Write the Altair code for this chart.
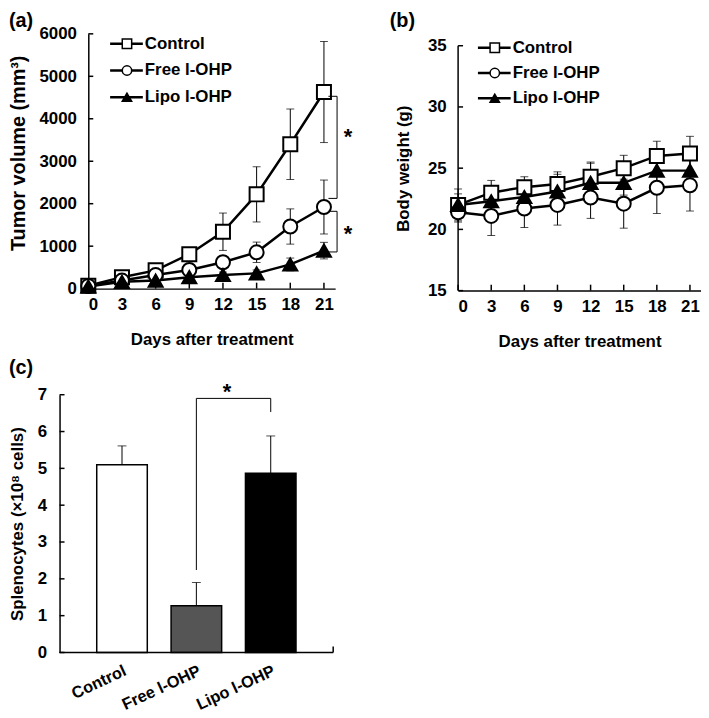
import altair as alt
import pandas as pd

# ---------------- data ----------------
days = [0, 3, 6, 9, 12, 15, 18, 21]
groups = ["Control", "Free l-OHP", "Lipo l-OHP"]

tumor_control = [70, 270, 430, 810, 1340, 2220, 3400, 4630]
tumor_control_err = [30, 60, 100, 120, 440, 650, 830, 1190]
tumor_free = [60, 190, 320, 440, 622, 856, 1463, 1922]
tumor_free_err = [20, 40, 60, 80, 100, 240, 415, 635]
tumor_lipo = [50, 160, 190, 270, 320, 360, 570, 895]
tumor_lipo_err = [15, 30, 40, 60, 70, 80, 150, 195]

bw_control = [22.0, 23.0, 23.45, 23.7, 24.3, 25.0, 26.0, 26.2]
bw_control_err = [1.3, 1.0, 0.85, 1.0, 1.2, 1.05, 1.2, 1.4]
bw_free = [21.4, 21.1, 21.7, 22.0, 22.6, 22.1, 23.4, 23.6]
bw_free_err = [0.8, 1.6, 1.55, 1.65, 1.7, 2.0, 2.1, 2.1]
bw_lipo = [22.0, 22.3, 22.65, 23.1, 23.8, 23.8, 24.8, 24.8]
bw_lipo_err = [0.9, 0.8, 0.8, 1.4, 1.6, 1.0, 1.0, 0.9]

spleno = [5.1, 1.27, 4.87]
spleno_err = [0.51, 0.63, 1.01]

tumor_ticks = [0, 1000, 2000, 3000, 4000, 5000, 6000]
bw_ticks = [15, 20, 25, 30, 35]
spleno_ticks = [0, 1, 2, 3, 4, 5, 6, 7]

# significance annotations (data units)
brk_a_x = 22.17
brk_a_inner = 21.4
brk_a_top = [4529, 1821]
brk_a_bottom = [2125, 864]
star_a_x = 23.15
star_a_y = [3689, 1400]

brk_c_x = ["Free l-OHP", "Free l-OHP", "Lipo l-OHP", "Lipo l-OHP"]
brk_c_y = [2.24, 6.9, 6.9, 6.53]
star_c_y = 7.05

# ---------------- style ----------------
FONT = "Liberation Sans"
SHAPES = ["square", "circle", "triangle-up"]
FILLS = ["white", "white", "black"]
BAR_FILLS = ["white", "#555555", "black"]

shape_scale = alt.Scale(domain=groups, range=SHAPES)
fill_scale = alt.Scale(domain=groups, range=FILLS)
one = pd.DataFrame({"k": [0]})


def long_df(means, errs):
    frames = []
    for g, m, e in zip(groups, means, errs):
        d = pd.DataFrame({"day": days, "mean": m, "err": e})
        d["group"] = g
        frames.append(d)
    df = pd.concat(frames, ignore_index=True)
    df["lo"] = df["mean"] - df["err"]
    df["hi"] = df["mean"] + df["err"]
    return df


def line_panel(df, W, H, ydom, yticks, ytitle, ytitle_x, ytitle_y, ytitle_fs,
               letter, letter_xy, leg_y0, leg_dy, leg_x0, xdom, ydomain_line):
    xaxis = alt.Axis(values=days, title="Days after treatment", ticks=False,
                     tickSize=0, labelPadding=8, titleX=W / 2, titleY=51,
                     titleBaseline="middle", labelAngle=0, grid=False)
    yaxis = alt.Axis(values=yticks, title=ytitle, ticks=False, tickSize=0,
                     labelPadding=12, titleX=ytitle_x, titleY=ytitle_y,
                     titleFontSize=ytitle_fs, titleBaseline="middle",
                     grid=False, format="d", domain=ydomain_line is None)
    xs = alt.Scale(domain=xdom, nice=False, zero=False)
    ys = alt.Scale(domain=ydom, nice=False, zero=False)

    def X(f):
        return alt.X(f"{f}:Q", scale=xs, axis=xaxis)

    def Y(f):
        return alt.Y(f"{f}:Q", scale=ys, axis=yaxis)

    base = alt.Chart(df)
    err = base.mark_rule(color="black", strokeWidth=1).encode(
        x=X("day"), y=Y("lo"), y2="hi:Q")
    cap_hi = base.mark_tick(orient="horizontal", size=8, thickness=1,
                            color="black").encode(x=X("day"), y=Y("hi"))
    cap_lo = base.mark_tick(orient="horizontal", size=8, thickness=1,
                            color="black").encode(x=X("day"), y=Y("lo"))
    line = base.mark_line(color="black", strokeWidth=2.5).encode(
        x=X("day"), y=Y("mean"), detail="group:N")
    pts = base.mark_point(filled=True, size=200, stroke="black",
                          strokeWidth=2, opacity=1).encode(
        x=X("day"), y=Y("mean"),
        shape=alt.Shape("group:N", scale=shape_scale, legend=None),
        fill=alt.Fill("group:N", scale=fill_scale, legend=None))

    xt = alt.Chart(pd.DataFrame({"day": days})).mark_rule(
        color="black", strokeWidth=1.5).encode(
        x=X("day"), y=alt.value(H), y2=alt.value(H - 6))
    yt = alt.Chart(pd.DataFrame({"mean": yticks})).mark_rule(
        color="black", strokeWidth=1.5).encode(
        y=Y("mean"), x=alt.value(0), x2=alt.value(5))

    lab = alt.Chart(one).mark_text(
        text=letter, align="left", baseline="middle", font=FONT,
        fontSize=20, fontWeight="bold", color="black").encode(
        x=alt.value(letter_xy[0]), y=alt.value(letter_xy[1]))

    extra = []
    if ydomain_line is not None:
        extra.append(alt.Chart(pd.DataFrame({"lo": [ydomain_line[0]], "hi": [ydomain_line[1]]}))
                     .mark_rule(color="black", strokeWidth=1.5)
                     .encode(x=alt.value(0), y=Y("lo"), y2="hi:Q"))

    legs = []
    for i, g in enumerate(groups):
        yy = leg_y0 + i * leg_dy
        legs.append(alt.Chart(one).mark_rule(color="black", strokeWidth=2.5).encode(
            x=alt.value(leg_x0), x2=alt.value(leg_x0 + 33), y=alt.value(yy)))
        legs.append(alt.Chart(one).mark_point(
            filled=True, size=90, stroke="black", strokeWidth=1.5, opacity=1,
            shape=SHAPES[i], fill=FILLS[i]).encode(
            x=alt.value(leg_x0 + 17), y=alt.value(yy)))
        legs.append(alt.Chart(one).mark_text(
            text=g, align="left", baseline="middle", font=FONT, fontSize=17,
            fontWeight="bold", color="black").encode(
            x=alt.value(leg_x0 + 35), y=alt.value(yy)))

    layers = extra + [err, cap_hi, cap_lo, line, pts, xt, yt, lab] + legs
    return layers, X, Y


# ---------------- panel (a) ----------------
dfa = long_df([tumor_control, tumor_free, tumor_lipo],
              [tumor_control_err, tumor_free_err, tumor_lipo_err])
WA, HA = 249, 257
la, XA, YA = line_panel(dfa, WA, HA, [0, 6000], tumor_ticks, "Tumor volume (mm³)",
                        -70, 120, 20, "(a)", (-80, -13), 10, 27, 22, [0, 22], None)

brk_df = pd.DataFrame({"x": [brk_a_x] * 2, "xi": [brk_a_inner] * 2,
                       "top": brk_a_top, "bot": brk_a_bottom})
brk_v = alt.Chart(brk_df).mark_rule(color="black", strokeWidth=1).encode(
    x=XA("x"), y=YA("top"), y2="bot:Q")
brk_t = alt.Chart(brk_df).mark_rule(color="black", strokeWidth=1).encode(
    x=XA("xi"), x2="x:Q", y=YA("top"))
brk_b = alt.Chart(brk_df).mark_rule(color="black", strokeWidth=1).encode(
    x=XA("xi"), x2="x:Q", y=YA("bot"))
star_df = pd.DataFrame({"x": [star_a_x] * 2, "y": star_a_y})
stars_a = alt.Chart(star_df).mark_text(
    text="*", font=FONT, fontSize=22, fontWeight="bold", baseline="middle",
    dy=5, color="black").encode(x=XA("x"), y=YA("y"))

panel_a = alt.layer(*la, brk_v, brk_t, brk_b, stars_a).properties(width=WA, height=HA)

# ---------------- panel (b) ----------------
# plot area starts 12 px above the 35 g tick (shared top with panel a)
dfb = long_df([bw_control, bw_free, bw_lipo],
              [bw_control_err, bw_free_err, bw_lipo_err])
WB, HB = 245, 259
lb, XB, YB = line_panel(dfb, WB, HB, [15, 35.97], bw_ticks, "Body weight (g)",
                        -55, 12 + 247 / 2, 17, "(b)", (-69, -13), 14, 25.5, 20,
                        [0, 22], (15, 35))
panel_b = alt.layer(*lb).properties(width=WB, height=HB)

# ---------------- panel (c) ----------------
# plot origin is shared with panel a; the y axis is pushed 29 px to the left
OFF = 29
WC, HC = 247, 260
dfc = pd.DataFrame({"group": groups, "value": spleno, "err": spleno_err})
dfc["hi"] = dfc["value"] + dfc["err"]
xc_axis = alt.Axis(title=None, labelAngle=-25, labelAlign="right",
                   labelBaseline="top", labelOffset=0, labelFontSize=16.5,
                   ticks=False, tickSize=0, labelPadding=10, grid=False,
                   domain=False)
yc_axis = alt.Axis(values=spleno_ticks, title="Splenocytes (×10⁸ cells)",
                   ticks=False, tickSize=0, labelPadding=13, titleX=-42,
                   titleY=HC / 2, titleBaseline="middle", grid=False,
                   offset=OFF)
xcs = alt.Scale(domain=groups, range=[-OFF, WC], paddingInner=0.32,
                paddingOuter=0.5)
ycs = alt.Scale(domain=[0, 7], nice=False)


def XC(f):
    return alt.X(f"{f}:N", scale=xcs, axis=xc_axis, sort=groups)


def YC(f):
    return alt.Y(f"{f}:Q", scale=ycs, axis=yc_axis)


cbase = alt.Chart(dfc)
c_err = cbase.mark_rule(color="black", strokeWidth=1).encode(
    x=XC("group"), y=YC("value"), y2="hi:Q")
c_cap = cbase.mark_tick(orient="horizontal", size=9, thickness=1,
                        color="black").encode(x=XC("group"), y=YC("hi"))
c_bars = cbase.mark_bar(stroke="black", strokeWidth=1.5).encode(
    x=XC("group"), y=YC("value"),
    fill=alt.Fill("group:N", scale=alt.Scale(domain=groups, range=BAR_FILLS),
                  legend=None))
c_yt = alt.Chart(pd.DataFrame({"value": spleno_ticks})).mark_rule(
    color="black", strokeWidth=1.5).encode(
    y=YC("value"), x=alt.value(-OFF), x2=alt.value(-OFF + 5))
c_xline = alt.Chart(one).mark_rule(color="black", strokeWidth=1.5).encode(
    x=alt.value(-OFF), x2=alt.value(WC), y=alt.value(HC))
c_xt = alt.Chart(one).mark_rule(color="black", strokeWidth=1.5).encode(
    x=alt.value(WC), y=alt.value(HC), y2=alt.value(HC - 6))
brk_c_df = pd.DataFrame({"group": brk_c_x, "value": brk_c_y,
                         "o": list(range(len(brk_c_x)))})
c_brk = alt.Chart(brk_c_df).mark_line(color="black", strokeWidth=1).encode(
    x=XC("group"), y=YC("value"), order="o:Q")
c_star = alt.Chart(pd.DataFrame({"group": ["Free l-OHP"], "value": [star_c_y]})).mark_text(
    text="*", font=FONT, fontSize=22, fontWeight="bold", baseline="middle",
    dx=31, dy=-1, color="black").encode(x=XC("group"), y=YC("value"))
c_lab = alt.Chart(one).mark_text(
    text="(c)", align="left", baseline="middle", font=FONT, fontSize=20,
    fontWeight="bold", color="black").encode(x=alt.value(-80), y=alt.value(-27))

panel_c = alt.layer(c_err, c_cap, c_bars, c_yt, c_xline, c_xt, c_brk, c_star,
                    c_lab).properties(width=WC, height=HC)

chart = alt.concat(
    panel_a, panel_b, panel_c, columns=2,
    spacing={"row": 9, "column": 28}, padding=0
).resolve_scale(fill="independent", shape="independent").configure_view(
    stroke=None).configure_axis(
    domainColor="black", domainWidth=1.5, labelFont=FONT, labelFontSize=17,
    labelFontWeight="bold", labelColor="black", titleFont=FONT,
    titleFontSize=17, titleFontWeight="bold", titleColor="black", grid=False)

chart.save("out.html", embed_options={"renderer": "svg", "actions": False})
